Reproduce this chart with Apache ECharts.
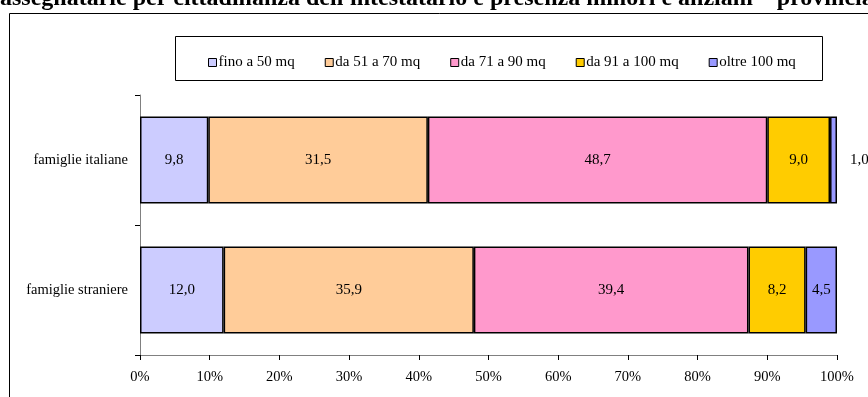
<!DOCTYPE html>
<html><head><meta charset="utf-8">
<script src="https://cdn.jsdelivr.net/npm/echarts@6/dist/echarts.min.js"></script>
<style>html,body{margin:0;padding:0;background:#fff}#c{width:868px;height:397px}</style>
</head><body><div id="c"></div>
<script>
const categories = ['famiglie italiane', 'famiglie straniere'];
const seriesNames = ['fino a 50 mq', 'da 51 a 70 mq', 'da 71 a 90 mq', 'da 91 a 100 mq', 'oltre 100 mq'];
const fino50 = [9.8, 12.0];
const da51a70 = [31.5, 35.9];
const da71a90 = [48.7, 39.4];
const da91a100 = [9.0, 8.2];
const oltre100 = [1.0, 4.5];
const xTicks = [0, 10, 20, 30, 40, 50, 60, 70, 80, 90, 100];
const title = "assegnatarie per cittadinanza dell'intestatario e presenza minori e anziani – provincia";

const colors = ['#CCCCFF', '#FFCC99', '#FF99CC', '#FFCC00', '#9999FF'];
const values = [fino50, da51a70, da71a90, da91a100, oltre100];
const font = '"Liberation Serif", "Times New Roman", serif';

const chart = echarts.init(document.getElementById('c'), null, {renderer: 'canvas'});
chart.setOption({
  animation: false,
  textStyle: {fontFamily: font},
  graphic: [
    {type: 'rect', shape: {x: 9.5, y: 13.5, width: 900, height: 420}, style: {fill: 'none', stroke: '#000', lineWidth: 1}, silent: true, z: -1},
    {type: 'rect', shape: {x: 175.5, y: 36.5, width: 647, height: 44}, style: {fill: '#fff', stroke: '#000', lineWidth: 1}, silent: true, z: -1},
    {type: 'text', left: 0, top: -13, style: {text: title, font: 'bold 24px ' + font, fill: '#000'}, silent: true}
  ],
  legend: {
    top: 50, left: 203, itemGap: 30, itemWidth: 8, itemHeight: 8,
    textStyle: {fontFamily: font, fontSize: 15, color: '#000', padding: [0, 0, 0, -3]},
    data: seriesNames.map((n, i) => ({name: n, icon: 'rect', itemStyle: {borderColor: '#000', borderWidth: 1}}))
  },
  grid: {left: 140, right: 31, top: 95, bottom: 42},
  xAxis: {
    type: 'value', min: 0, max: 100, interval: 10,
    axisLine: {show: true, lineStyle: {color: '#808080'}},
    axisTick: {show: true, length: 5, lineStyle: {color: '#000'}},
    splitLine: {show: false},
    axisLabel: {formatter: '{value}%', fontFamily: font, fontSize: 14.5, color: '#000', margin: 15}
  },
  yAxis: {
    type: 'category', data: categories, inverse: true,
    axisLine: {show: true, lineStyle: {color: '#808080'}},
    axisTick: {show: true, length: 5, lineStyle: {color: '#000'}},
    axisLabel: {fontFamily: font, fontSize: 14.5, color: '#000', margin: 12}
  },
  series: seriesNames.map((n, i) => ({
    name: n, type: 'bar', stack: 'tot', barWidth: 87,
    itemStyle: {color: colors[i], borderColor: '#000', borderWidth: 1.5},
    label: {show: true, fontFamily: font, fontSize: 15, color: '#000',
      formatter: p => p.value.toFixed(1).replace('.', ',')},
    data: values[i].map(v => v < 2 ? {value: v, label: {position: 'right', distance: 13}} : {value: v, label: {position: 'inside'}})
  }))
});
</script></body></html>
